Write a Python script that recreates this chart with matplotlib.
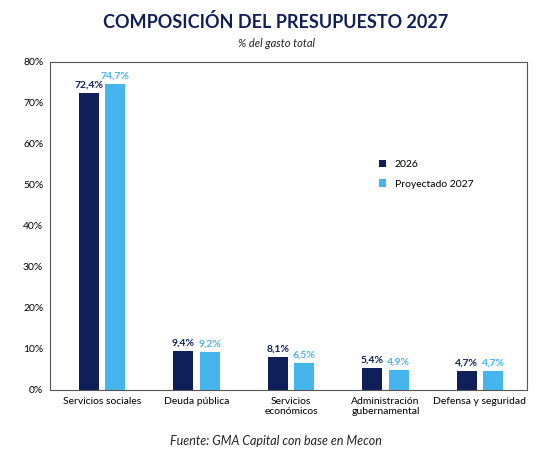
import matplotlib
matplotlib.use('Agg')
import matplotlib.pyplot as plt
import numpy as np

plt.rcParams['font.family'] = ['Lato', 'DejaVu Sans']

# ==========================================
# DATA
# ==========================================
categories = ['Servicios sociales', 'Deuda pública', 'Servicios\neconómicos',
              'Administración\ngubernamental', 'Defensa y seguridad']
values_2026 = [72.4, 9.4, 8.1, 5.4, 4.7]
values_2027 = [74.7, 9.2, 6.5, 4.9, 4.7]
yticks = [0, 10, 20, 30, 40, 50, 60, 70, 80]

DARK = '#0f1f5a'
LIGHT = '#45b5ee'

fig = plt.figure(figsize=(5.52, 4.68), dpi=100)
ax = fig.add_axes([0.091, 0.167, 0.864, 0.701])

x = np.arange(len(categories))
w = 0.21
off = 0.14
ax.bar(x - off, values_2026, w, color=DARK, label='2026')
ax.bar(x + off, values_2027, w, color=LIGHT, label='Proyectado 2027')

for xi, v in zip(x, values_2026):
    ax.text(xi - off, v + 0.8, f'{v:.1f}%'.replace('.', ','), ha='center', va='bottom',
            fontsize=7.5, fontweight='bold', color=DARK)
for xi, v in zip(x, values_2027):
    ax.text(xi + off, v + 0.8, f'{v:.1f}%'.replace('.', ','), ha='center', va='bottom',
            fontsize=7.5, fontweight='bold', color=LIGHT)

ax.set_xlim(-0.55, 4.5)
ax.set_ylim(0, 80)
ax.set_yticks(yticks)
ax.set_yticklabels([f'{t}%' for t in yticks], fontsize=7.5)
ax.set_xticks(x)
ax.set_xticklabels(categories, fontsize=7.5)
ax.tick_params(length=0, pad=5)
for s in ax.spines.values():
    s.set_color('#555555')
    s.set_linewidth(0.8)

ax.legend(loc='upper left', bbox_to_anchor=(0.67, 0.73), frameon=False, fontsize=7.5,
          handlelength=0.7, handleheight=0.7, labelspacing=1.0)

fig.text(0.5, 0.952, 'COMPOSICIÓN DEL PRESUPUESTO 2027', ha='center', va='center',
         fontsize=13, fontweight='bold', color=DARK)
fig.text(0.5, 0.908, '% del gasto total', ha='center', va='center',
         fontsize=8, style='italic', color='#222222')
fig.text(0.5, 0.057, 'Fuente: GMA Capital con base en Mecon', ha='center', va='center',
         fontsize=9, style='italic', color='#222222')

plt.savefig('out.png', dpi=100)
